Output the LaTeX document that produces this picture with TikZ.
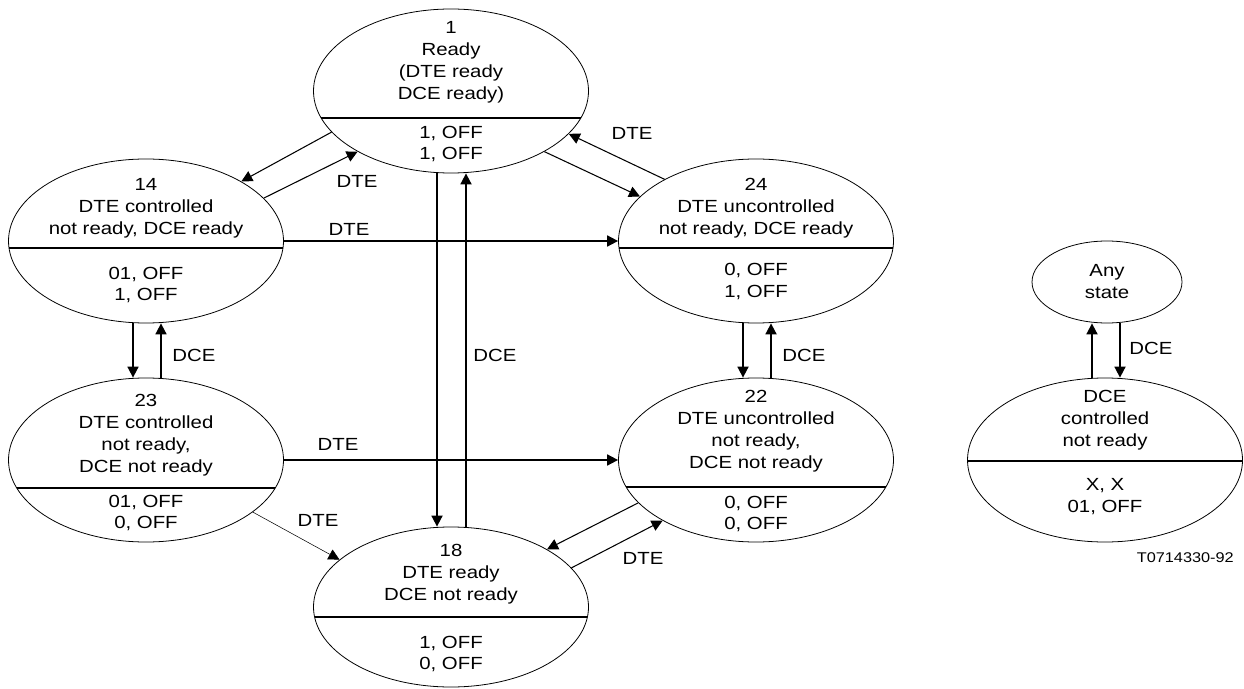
\documentclass[tikz,border=0pt]{standalone}
\usepackage{fontspec}
\setmainfont[FakeStretch=1.16]{Liberation Sans}
\usetikzlibrary{shapes.geometric,arrows.meta}

\tikzset{
    state/.style={draw, ellipse, line width=0.45pt, minimum width=5.5cm, minimum height=3.28cm, inner sep=0pt},
    divider/.style={path picture={\draw[line width=1pt] ([yshift=#1]path picture bounding box.west) -- ([yshift=#1]path picture bounding box.east);}},
    txt/.style={align=center, font=\fontsize{10}{12.5}\selectfont},
    arr/.style={-{Triangle[length=0.22cm,width=0.22cm]}, line width=0.6pt},
    thickarr/.style={arr, line width=1pt},
    thinarr/.style={arr, line width=0.3pt},
}

\begin{document}
\begin{tikzpicture}
    \useasboundingbox (0,0) rectangle (24.88,13.76);

    % States
    \node[state, divider=-0.54cm] (s1) at (9.02,11.94) {};
    \node[state, divider=-0.14cm] (s14) at (2.92,8.94) {};
    \node[state, divider=-0.14cm] (s24) at (15.12,8.94) {};
    \node[state, divider=-0.56cm] (s23) at (2.92,4.56) {};
    \node[state, divider=-0.54cm] (s22) at (15.12,4.56) {};
    \node[state, divider=-0.20cm, minimum height=3.2cm] (s18) at (9.02,1.62) {};
    \node[state, minimum width=3cm, minimum height=1.64cm, txt] (any) at (22.14,8.12) {Any\\state};
    \node[state, divider=-0.02cm] (dce) at (22.1,4.56) {};

    % State texts
    \node[txt] (s1top) at ([yshift=0.57cm]s1.center) {1\\Ready\\(DTE ready\\DCE ready)};
    \node[txt] (s1bot) at ([yshift=-1.06cm]s1.center) {1, OFF\\1, OFF};
    \node[txt] (s14top) at ([yshift=0.66cm]s14.center) {14\\DTE controlled\\not ready, DCE ready};
    \node[txt] (s14bot) at ([yshift=-0.88cm]s14.center) {01, OFF\\1, OFF};
    \node[txt] (s24top) at ([yshift=0.66cm]s24.center) {24\\DTE uncontrolled\\not ready, DCE ready};
    \node[txt] (s24bot) at ([yshift=-0.81cm]s24.center) {0, OFF\\1, OFF};
    \node[txt] (s23top) at ([yshift=0.50cm]s23.center) {23\\DTE controlled\\not ready,\\DCE not ready};
    \node[txt] (s23bot) at ([yshift=-1.06cm]s23.center) {01, OFF\\0, OFF};
    \node[txt] (s22top) at ([yshift=0.57cm]s22.center) {22\\DTE uncontrolled\\not ready,\\DCE not ready};
    \node[txt] (s22bot) at ([yshift=-1.08cm]s22.center) {0, OFF\\0, OFF};
    \node[txt] (s18top) at ([yshift=0.66cm]s18.center) {18\\DTE ready\\DCE not ready};
    \node[txt] (s18bot) at ([yshift=-0.94cm]s18.center) {1, OFF\\0, OFF};
    \node[txt] (dcetop) at ([yshift=0.80cm]dce.center) {DCE\\controlled\\not ready};
    \node[txt] (dcebot) at ([yshift=-0.74cm]dce.center) {X, X\\01, OFF};

    % Transitions
    \draw[arr] (s1.199) -- (s14.32);
    \draw[arr] (s14.20) -- (s1.213);
    \draw[arr] (s1.327) -- (s24.159);
    \draw[arr] (s24.146) -- (s1.340);
    \draw[thickarr] (s14.east) -- (s24.west);
    \draw[thickarr] (s23.east) -- (s22.west);
    \draw[arr] (s22.200) -- (s18.31);
    \draw[arr] (s18.18) -- (s22.213);
    \draw[thinarr] (s23.334) -- (s18.157);
    \draw[thickarr] ([xshift=-0.28cm]s1.south) -- ([xshift=-0.28cm]s18.north);
    \draw[thickarr] ([xshift=0.30cm]s18.north) -- ([xshift=0.30cm]s1.south);
    \draw[thickarr] ([xshift=-0.26cm]s14.south) -- ([xshift=-0.26cm]s23.north);
    \draw[thickarr] ([xshift=0.30cm]s23.north) -- ([xshift=0.30cm]s14.south);
    \draw[thickarr] ([xshift=-0.26cm]s24.south) -- ([xshift=-0.26cm]s22.north);
    \draw[thickarr] ([xshift=0.30cm]s22.north) -- ([xshift=0.30cm]s24.south);
    \draw[thickarr] ([xshift=-0.30cm]any.south |- dce.north) -- ([xshift=-0.30cm]any.south);
    \draw[thickarr] ([xshift=0.26cm]any.south) -- ([xshift=0.26cm]any.south |- dce.north);

    % Labels
    \node[txt] (l1) at (7.14,10.14) {DTE};
    \node[txt] (l2) at (12.64,11.10) {DTE};
    \node[txt] (l3) at (6.98,9.18) {DTE};
    \node[txt] (l4) at (9.90,6.66) {DCE};
    \node[txt] (l5) at (3.88,6.66) {DCE};
    \node[txt] (l6) at (16.08,6.66) {DCE};
    \node[txt] (l7) at (6.76,4.88) {DTE};
    \node[txt] (l8) at (6.36,3.36) {DTE};
    \node[txt] (l9) at (12.86,2.60) {DTE};
    \node[txt] (l10) at (23.02,6.80) {DCE};
    \node[font=\fontsize{8}{9.6}\selectfont, anchor=east] (fig) at (24.80,2.60) {T0714330-92};

\end{tikzpicture}
\end{document}
